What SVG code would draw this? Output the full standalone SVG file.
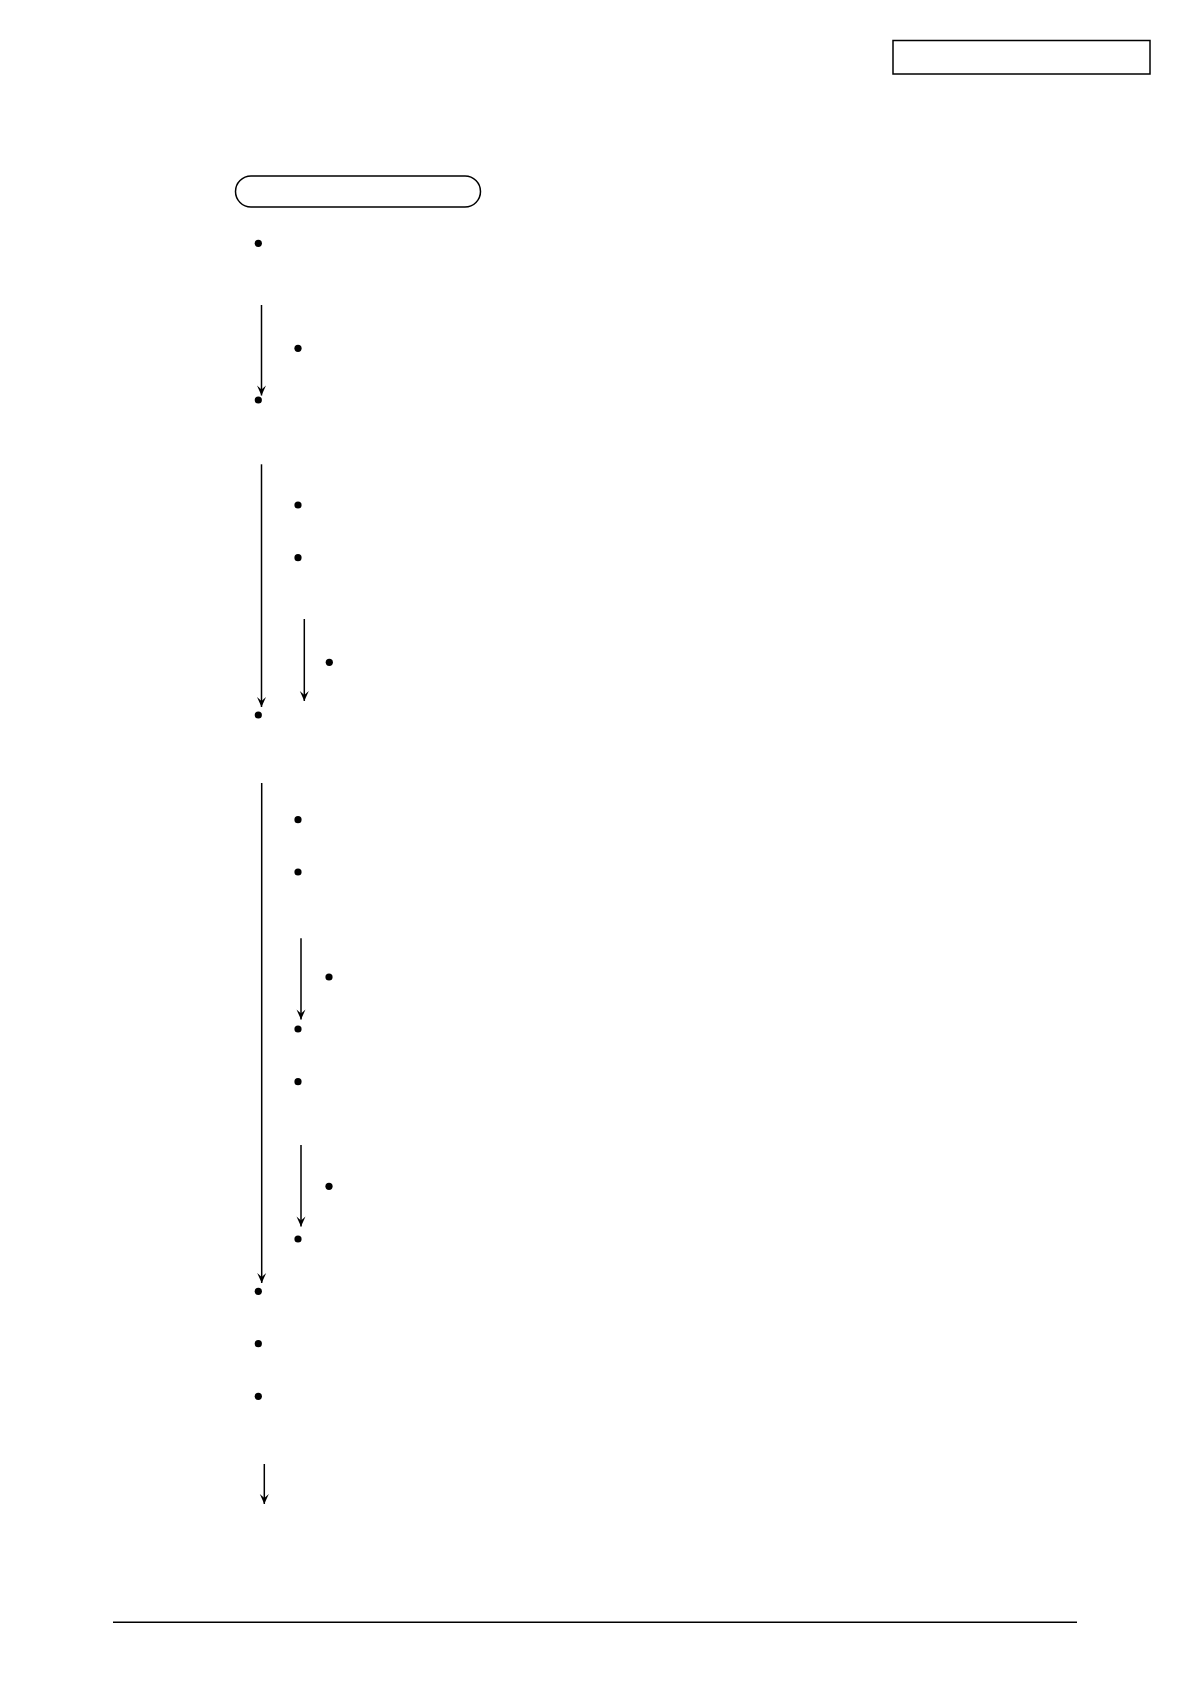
<svg xmlns="http://www.w3.org/2000/svg" width="1190" height="1684" viewBox="0 0 1190 1684">
<style>
.frame{fill:none;stroke:#000;stroke-width:1.5}
.dot{fill:#000}
.arrow{fill:none;stroke:#000;stroke-width:1.5;marker-end:url(#ah)}
</style>
<defs>
<marker id="ah" markerUnits="userSpaceOnUse" viewBox="-11 -5 12 10" refX="0" refY="0" markerWidth="12" markerHeight="10" orient="auto" overflow="visible">
<path d="M-10,-4.5 L0,0 L-10,4.5 L-6,0 Z" fill="#000"/>
</marker>
</defs>
<rect width="1190" height="1684" fill="#fff"/>
<g id="header-box"><rect class="frame" x="893" y="40.5" width="257" height="33.5"/></g>
<g id="title-box"><rect class="frame" x="235.5" y="176" width="245" height="31" rx="15.5" ry="15.5"/></g>
<g id="bullets">
<circle class="dot" cx="258.3" cy="243.3" r="3.6"/>
<circle class="dot" cx="298" cy="348.3" r="3.6"/>
<circle class="dot" cx="258.3" cy="400" r="3.6"/>
<circle class="dot" cx="298" cy="505" r="3.6"/>
<circle class="dot" cx="298" cy="557.7" r="3.6"/>
<circle class="dot" cx="329.3" cy="662.3" r="3.6"/>
<circle class="dot" cx="258.3" cy="715" r="3.6"/>
<circle class="dot" cx="298" cy="819.7" r="3.6"/>
<circle class="dot" cx="298" cy="872" r="3.6"/>
<circle class="dot" cx="329" cy="977" r="3.6"/>
<circle class="dot" cx="298" cy="1029" r="3.6"/>
<circle class="dot" cx="298" cy="1081.7" r="3.6"/>
<circle class="dot" cx="329" cy="1186.3" r="3.6"/>
<circle class="dot" cx="298" cy="1239" r="3.6"/>
<circle class="dot" cx="258.3" cy="1291.3" r="3.6"/>
<circle class="dot" cx="258.3" cy="1343.7" r="3.6"/>
<circle class="dot" cx="258.3" cy="1396.3" r="3.6"/>
</g>
<g id="connectors">
<path class="arrow" d="M261.5,305 V395.5"/>
<path class="arrow" d="M261.5,464.3 V707"/>
<path class="arrow" d="M304.3,619 V701"/>
<path class="arrow" d="M261.7,783 V1283"/>
<path class="arrow" d="M301,938.3 V1019.5"/>
<path class="arrow" d="M301,1145 V1226.5"/>
<path class="arrow" d="M264.3,1464 V1504"/>
</g>
<g id="footer-rule"><line x1="113" y1="1622.3" x2="1077" y2="1622.3" stroke="#000" stroke-width="1.5"/></g>
</svg>
